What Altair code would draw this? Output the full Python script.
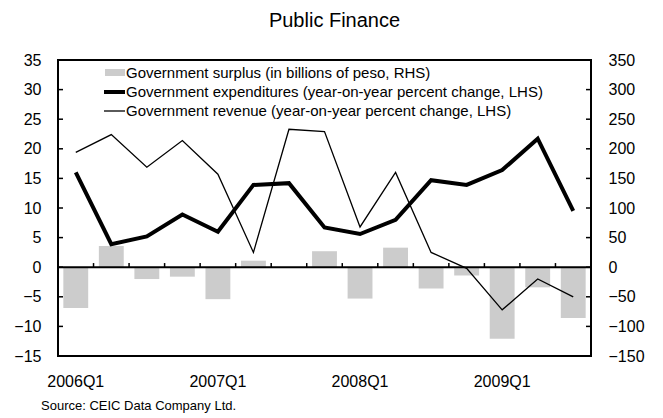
import altair as alt
import pandas as pd

# ---------------- data ----------------
quarters = ["2006Q1", "2006Q2", "2006Q3", "2006Q4",
            "2007Q1", "2007Q2", "2007Q3", "2007Q4",
            "2008Q1", "2008Q2", "2008Q3", "2008Q4",
            "2009Q1", "2009Q2", "2009Q3"]
surplus = [-69, 36, -20, -16, -54, 11, 0, 27, -53, 33, -36, -14, -121, -34, -86]
expenditures = [16.0, 3.9, 5.2, 8.9, 6.0, 13.9, 14.2, 6.7, 5.6, 8.0, 14.7, 13.9, 16.4, 21.7, 9.5]
revenue = [19.4, 22.4, 16.9, 21.4, 15.7, 2.5, 23.3, 22.9, 6.8, 16.0, 2.5, -0.2, -7.2, -2.0, -5.0]

left_ticks = [-15, -10, -5, 0, 5, 10, 15, 20, 25, 30, 35]
right_ticks = [-150, -100, -50, 0, 50, 100, 150, 200, 250, 300, 350]
year_labels = ["2006Q1", "2007Q1", "2008Q1", "2009Q1"]
legend_labels = [
    "Government surplus (in billions of peso, RHS)",
    "Government expenditures (year-on-year percent change, LHS)",
    "Government revenue (year-on-year percent change, LHS)",
]
title_text = "Public Finance"
source_text = "Source: CEIC Data Company Ltd."

# ---------------- styling ----------------
W, H = 533, 296
FONT = "Liberation Sans, Arial, sans-serif"
BAR_COLOR = "#cccccc"
TICK_LEN_UNITS = 0.7  # length of upward category ticks in left-axis units

df = pd.DataFrame({"quarter": quarters, "surplus": surplus,
                   "expend": expenditures, "revenue": revenue})
lt_df = pd.DataFrame({"v": left_ticks})
cat_ticks_df = pd.DataFrame({"quarter": quarters[1:], "y0": 0.0, "y1": TICK_LEN_UNITS})
zero_df = pd.DataFrame({"v": [0]})

xaxis = alt.Axis(title=None, values=year_labels, ticks=False, domain=False, labelAngle=0,
                 labelFontSize=16, labelPadding=17, labelFont=FONT, labelColor="black",
                 grid=False)
xscale = alt.Scale(paddingInner=0, paddingOuter=0)


def xq(bp=0.5):
    return alt.X("quarter:N", sort=quarters, scale=xscale, axis=xaxis, bandPosition=bp)


yL_scale = alt.Scale(domain=[-15, 35], nice=False, zero=False)
yL_axis = alt.Axis(title=None, values=left_ticks, orient="left", ticks=False, domain=False,
                   grid=False, labelFontSize=16, labelFont=FONT, labelColor="black",
                   labelPadding=17)
yR_scale = alt.Scale(domain=[-150, 350], nice=False, zero=False)
yR_axis = alt.Axis(title=None, values=right_ticks, orient="right", ticks=False, domain=False,
                   grid=False, labelFontSize=16, labelFont=FONT, labelColor="black",
                   labelPadding=17)


def yl(field):
    return alt.Y(field, scale=yL_scale, axis=yL_axis, title=None)


bars = alt.Chart(df).mark_bar(color=BAR_COLOR, width=alt.RelativeBandSize(0.7)).encode(
    x=xq(),
    y=alt.Y("surplus:Q", scale=yR_scale, axis=yR_axis, title=None),
)

rev_line = alt.Chart(df).mark_line(color="black", strokeWidth=1.3).encode(
    x=xq(), y=yl("revenue:Q"))
exp_line = alt.Chart(df).mark_line(color="black", strokeWidth=4).encode(
    x=xq(), y=yl("expend:Q"))

zero_rule = alt.Chart(zero_df).mark_rule(color="black", strokeWidth=2).encode(y=yl("v:Q"))
cat_ticks = alt.Chart(cat_ticks_df).mark_rule(color="black", strokeWidth=1.5).encode(
    x=xq(0), y=yl("y0:Q"), y2="y1:Q")
left_in_ticks = alt.Chart(lt_df).mark_rule(color="black", strokeWidth=1.5).encode(
    y=yl("v:Q"), x=alt.value(0), x2=alt.value(5))
right_in_ticks = alt.Chart(lt_df).mark_rule(color="black", strokeWidth=1.5).encode(
    y=yl("v:Q"), x=alt.value(W - 5), x2=alt.value(W))

one = pd.DataFrame({"a": [0]})
leg_swatch = alt.Chart(one).mark_rect(color=BAR_COLOR).encode(
    x=alt.value(47), x2=alt.value(67), y=alt.value(9), y2=alt.value(16))
leg_thick = alt.Chart(one).mark_rule(color="black", strokeWidth=4).encode(
    x=alt.value(46), x2=alt.value(67), y=alt.value(32))
leg_thin = alt.Chart(one).mark_rule(color="black", strokeWidth=1.3).encode(
    x=alt.value(46), x2=alt.value(67), y=alt.value(51))

leg_texts = []
for lab, yy in zip(legend_labels, [13, 32, 51]):
    leg_texts.append(
        alt.Chart(pd.DataFrame({"label": [lab]})).mark_text(
            align="left", baseline="middle", fontSize=15, font=FONT, color="black"
        ).encode(text="label:N", x=alt.value(68), y=alt.value(yy))
    )

title_mark = alt.Chart(pd.DataFrame({"t": [title_text]})).mark_text(
    align="center", baseline="alphabetic", fontSize=20, font=FONT, color="black"
).encode(text="t:N", x=alt.value(W / 2 + 10), y=alt.value(-33))
source_mark = alt.Chart(pd.DataFrame({"t": [source_text]})).mark_text(
    align="left", baseline="alphabetic", fontSize=13, font=FONT, color="black"
).encode(text="t:N", x=alt.value(-17), y=alt.value(350))

left_group = alt.layer(
    zero_rule, cat_ticks, left_in_ticks, right_in_ticks,
    rev_line, exp_line,
    leg_swatch, leg_thick, leg_thin, *leg_texts,
    title_mark, source_mark,
)

chart = alt.layer(bars, left_group).resolve_scale(y="independent").properties(
    width=W, height=H,
    padding={"left": 50, "top": 52, "right": 64, "bottom": 58},
    autosize=alt.AutoSizeParams(type="none"),
    background="white",
).configure_view(stroke="black", strokeWidth=2)

chart.save("out.html", embed_options={"renderer": "svg", "actions": False})
